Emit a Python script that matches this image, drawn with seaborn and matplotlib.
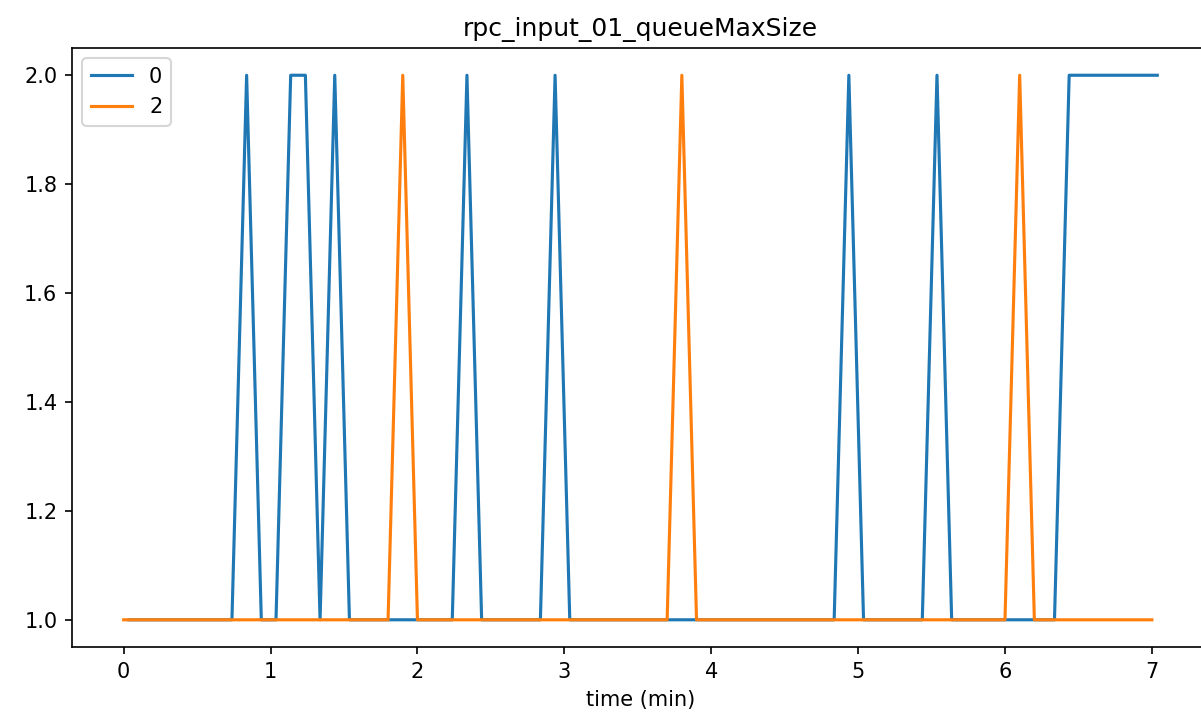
import numpy as np
import pandas as pd
import matplotlib
matplotlib.use("Agg")
import matplotlib.pyplot as plt
import seaborn as sns

# sample times (min) for each series
time_0 = [round(0.037 + 0.1 * i, 3) for i in range(71)]
time_2 = [round(0.1 * i, 1) for i in range(71)]

# queueMaxSize per sample
size_0 = [1, 1, 1, 1, 1, 1, 1, 1, 2, 1,
          1, 2, 2, 1, 2, 1, 1, 1, 1, 1,
          1, 1, 1, 2, 1, 1, 1, 1, 1, 2,
          1, 1, 1, 1, 1, 1, 1, 1, 1, 1,
          1, 1, 1, 1, 1, 1, 1, 1, 1, 2,
          1, 1, 1, 1, 1, 2, 1, 1, 1, 1,
          1, 1, 1, 1, 2, 2, 2, 2, 2, 2,
          2]
size_2 = [1, 1, 1, 1, 1, 1, 1, 1, 1, 1,
          1, 1, 1, 1, 1, 1, 1, 1, 1, 2,
          1, 1, 1, 1, 1, 1, 1, 1, 1, 1,
          1, 1, 1, 1, 1, 1, 1, 1, 2, 1,
          1, 1, 1, 1, 1, 1, 1, 1, 1, 1,
          1, 1, 1, 1, 1, 1, 1, 1, 1, 1,
          1, 2, 1, 1, 1, 1, 1, 1, 1, 1,
          1]

series_names = ["0", "2"]

df = pd.concat([
    pd.DataFrame({"time": time_0, "value": size_0, "id": series_names[0]}),
    pd.DataFrame({"time": time_2, "value": size_2, "id": series_names[1]}),
])

fig = plt.figure(figsize=(1201 / 150, 721 / 150), dpi=150)
# axes runs past the right edge of the picture, like the cropped original
ax = fig.add_axes([0.05995, 0.1026, 0.9467, 0.8308])

sns.lineplot(data=df, x="time", y="value", hue="id", hue_order=series_names,
             palette=["#1f77b4", "#ff7f0e"], linewidth=1.5, ax=ax,
             estimator=None, sort=False)

ax.set_title("rpc_input_01_queueMaxSize")
ax.set_xlabel("time (min)")
ax.set_ylabel("")
ax.set_yticks([1.0, 1.2, 1.4, 1.6, 1.8, 2.0])
ax.spines["right"].set_visible(False)
ax.legend(loc="upper left")

fig.savefig("out.png", dpi=150)
